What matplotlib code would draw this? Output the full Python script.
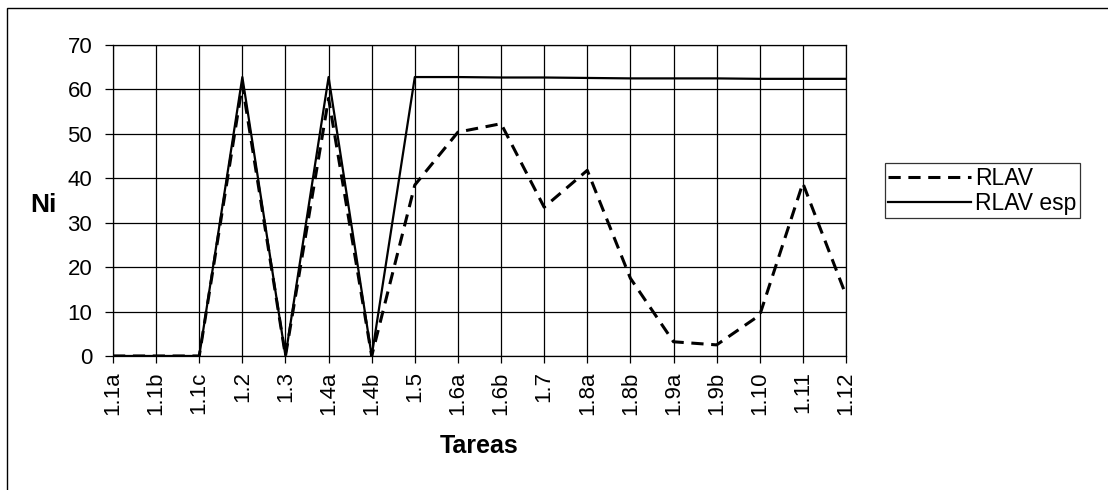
import matplotlib
matplotlib.use('Agg')
import matplotlib.pyplot as plt
from matplotlib.patches import Rectangle

plt.rcParams['font.family'] = ['Liberation Sans', 'DejaVu Sans']

tareas = ['1.1a', '1.1b', '1.1c', '1.2', '1.3', '1.4a', '1.4b', '1.5', '1.6a', '1.6b',
          '1.7', '1.8a', '1.8b', '1.9a', '1.9b', '1.10', '1.11', '1.12']
rlav = [0, 0, 0, 61, 0, 58, 0, 38.5, 50.4, 52.3, 33.5, 41.8, 17.5, 3.2, 2.5, 9.2, 38.9, 13.7]
rlav_esp = [0, 0, 0, 62.8, 0, 62.8, 0, 62.8, 62.8, 62.7, 62.7, 62.6, 62.5, 62.5, 62.5, 62.4, 62.4, 62.4]

fig = plt.figure(figsize=(11.08, 4.9), dpi=100)
ax = fig.add_axes([0.102, 0.2735, 0.6615, 0.6345])

x = range(len(tareas))
ax.plot(x, rlav_esp, color='black', lw=1.6, label='RLAV esp', zorder=3)
ax.plot(x, rlav, color='black', lw=2.2, linestyle=(0, (4, 2.5)), label='RLAV', zorder=4)

ax.set_xlim(0, len(tareas) - 1)
ax.set_ylim(0, 70)
ax.set_xticks(list(x))
ax.set_xticklabels(tareas, rotation=90, fontsize=16)
ax.set_yticks(range(0, 71, 10))
ax.tick_params(axis='y', labelsize=16, length=6, direction='out', pad=9, width=0.9)
ax.tick_params(axis='x', length=5, direction='out', pad=6, width=0.9)
ax.grid(True, color='black', lw=0.9)
ax.set_axisbelow(True)
for s in ax.spines.values():
    s.set_linewidth(0.9)

ax.set_ylabel('Ni', fontsize=19, fontweight='bold', rotation=0, va='center', ha='center')
ax.yaxis.set_label_coords(-0.0955, 0.486)
ax.set_xlabel('Tareas', fontsize=18, fontweight='bold', va='center')
ax.xaxis.set_label_coords(0.5, -0.289)

handles, labels = ax.get_legend_handles_labels()
leg = ax.legend(handles[::-1], labels[::-1], loc='upper left', bbox_to_anchor=(1.053, 0.62),
                fontsize=16.5, frameon=True, fancybox=False, edgecolor='black',
                handlelength=3.6, handletextpad=0.2, borderpad=0.15, labelspacing=0.1,
                borderaxespad=0)
leg.get_frame().set_linewidth(0.9)

# outer border of the chart
fig.patches.append(Rectangle((0.0063, -0.05), 1.1, 1.0337, transform=fig.transFigure,
                             fill=False, edgecolor='black', lw=1.0))

fig.savefig('out.png', dpi=100)
